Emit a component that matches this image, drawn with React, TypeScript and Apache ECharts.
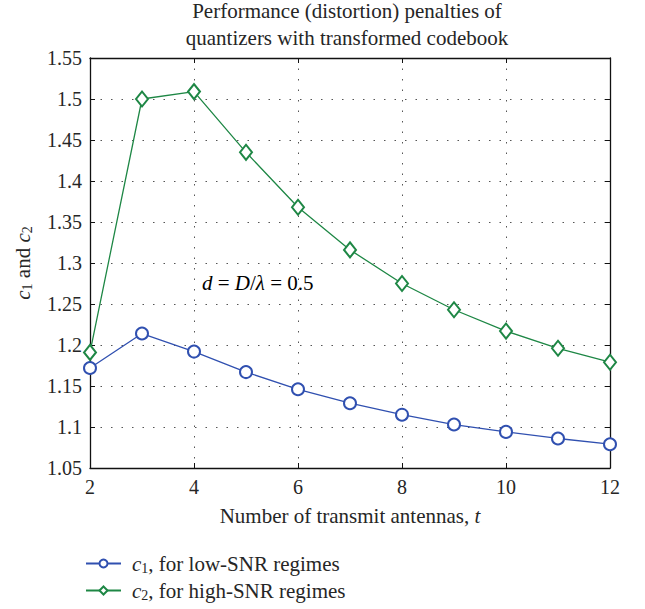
import React, { useEffect, useRef } from "react";
import * as echarts from "echarts";

const antennas = [2, 3, 4, 5, 6, 7, 8, 9, 10, 11, 12];
const c1LowSNR = [1.172, 1.214, 1.192, 1.167, 1.146, 1.129, 1.115, 1.103, 1.094, 1.086, 1.079];
const c2HighSNR = [1.191, 1.5, 1.509, 1.435, 1.368, 1.316, 1.275, 1.243, 1.217, 1.196, 1.179];
const xTicks = [2, 4, 6, 8, 10, 12];
const yTicks = [1.05, 1.1, 1.15, 1.2, 1.25, 1.3, 1.35, 1.4, 1.45, 1.5, 1.55];

const FONT = "Liberation Serif";
const TXT = "#262626";
const BLUE = "#3050b0";
const GREEN = "#1e8745";

export default function App() {
  const ref = useRef<HTMLDivElement>(null);
  useEffect(() => {
    document.body.style.margin = "0";
    if (!ref.current) return;
    const chart = echarts.init(ref.current, null, { renderer: "svg" });
    const rich = {
      i: { fontFamily: FONT, fontStyle: "italic", fontSize: 21, color: TXT },
      n: { fontFamily: FONT, fontSize: 21, color: TXT },
      s: { fontFamily: FONT, fontSize: 14, color: TXT, padding: [9, 0, 0, 0] },
    };
    const grid = { left: 90, right: 35, top: 58, bottom: 141 };
    const dotted = { color: "#555", width: 1, type: [1.5, 9] as any };
    const xBase = { min: 2, max: 12, interval: 2 };
    const yBase = {
      min: yTicks[0],
      max: yTicks[yTicks.length - 1],
      interval: 0.05,
    };
    const frameLine = { show: true, onZero: false, lineStyle: { color: "#111", width: 1.3 } };
    const frameTick = { show: true, inside: true, length: 5, lineStyle: { color: "#111" } };
    const legendBase = {
      orient: "horizontal",
      left: 85,
      itemWidth: 35,
      itemHeight: 10,
      padding: 0,
      formatter: (name: string) =>
        name === "c1"
          ? "{i|c}{s|1}{n|, for low-SNR regimes}"
          : "{i|c}{s|2}{n|, for high-SNR regimes}",
      textStyle: { fontFamily: FONT, fontSize: 21, color: TXT, rich, padding: [0, 0, 0, 6] },
    };
    chart.setOption({
      animation: false,
      backgroundColor: "#fff",
      title: {
        text: "Performance (distortion) penalties of\nquantizers with transformed codebook",
        left: 347,
        top: -3,
        padding: 0,
        textAlign: "center",
        textStyle: {
          fontFamily: FONT,
          fontWeight: "normal",
          fontSize: 21,
          color: TXT,
          lineHeight: 27,
        },
      },
      grid,
      legend: [
        { ...legendBase, top: 553, data: ["c1"] },
        { ...legendBase, top: 580, data: ["c2"] },
      ],
      xAxis: [
        {
          type: "value",
          ...xBase,
          name: "{n|Number of transmit antennas, }{i|t}",
          nameLocation: "middle",
          nameGap: 37,
          nameTextStyle: { rich },
          axisLine: frameLine,
          axisTick: frameTick,
          axisLabel: {
            fontFamily: FONT,
            fontSize: 20,
            color: TXT,
            margin: 9,
            formatter: (v: number) => (xTicks.includes(v) ? String(v) : ""),
          },
          splitLine: { show: true, lineStyle: dotted },
        },
        {
          type: "value",
          ...xBase,
          position: "top",
          axisLine: frameLine,
          axisTick: frameTick,
          axisLabel: { show: false },
          splitLine: { show: false },
        },
      ],
      yAxis: [
        {
          type: "value",
          ...yBase,
          name: "{i|c}{s|1}{n| and }{i|c}{s|2}",
          nameLocation: "middle",
          nameGap: 56,
          nameTextStyle: { rich },
          axisLine: frameLine,
          axisTick: frameTick,
          axisLabel: {
            fontFamily: FONT,
            fontSize: 20,
            color: TXT,
            margin: 8,
            formatter: (v: number) => {
              const t = yTicks.find((k) => Math.abs(k - v) < 1e-6);
              return t === undefined ? "" : String(+t.toFixed(2));
            },
          },
          splitLine: { show: true, lineStyle: dotted },
        },
        {
          type: "value",
          ...yBase,
          position: "right",
          axisLine: frameLine,
          axisTick: frameTick,
          axisLabel: { show: false },
          splitLine: { show: false },
        },
      ],
      graphic: [
        {
          type: "text",
          left: 202,
          top: 272,
          style: {
            text: "{i|d}{n| = }{i|D}{n|/}{i|λ}{n| = 0.5}",
            rich,
          },
        },
      ],
      series: [
        {
          name: "c1",
          type: "line",
          data: antennas.map((x, i) => [x, c1LowSNR[i]]),
          symbol: "emptyCircle",
          symbolSize: 12,
          color: BLUE,
          lineStyle: { color: BLUE, width: 1.3 },
          itemStyle: { color: BLUE, borderWidth: 1.1 },
        },
        {
          name: "c2",
          type: "line",
          data: antennas.map((x, i) => [x, c2HighSNR[i]]),
          symbol: "emptyDiamond",
          symbolSize: [12, 15],
          color: GREEN,
          lineStyle: { color: GREEN, width: 1.3 },
          itemStyle: { color: GREEN, borderWidth: 1.1 },
        },
      ],
    });
    return () => chart.dispose();
  }, []);
  return <div ref={ref} style={{ width: 645, height: 609 }} />;
}
